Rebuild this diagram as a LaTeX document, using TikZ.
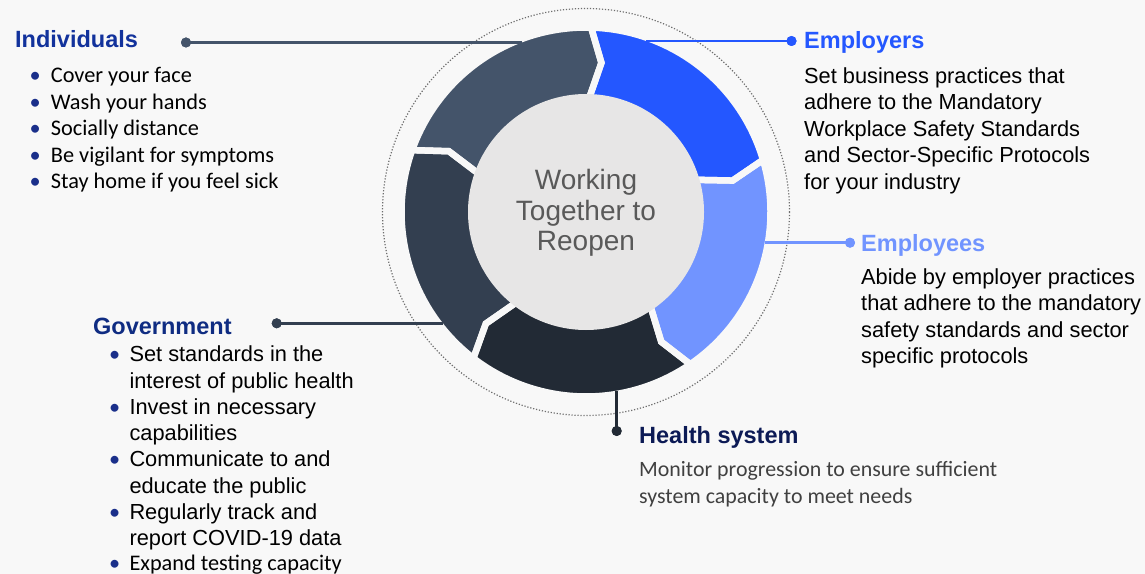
\documentclass[tikz,border=0pt]{standalone}
\usepackage{fontspec}
\setmainfont{Liberation Sans}
\newfontfamily\calib{Carlito}
\definecolor{bg}{HTML}{F8F8F8}
\definecolor{cInd}{HTML}{44546A}
\definecolor{cEmp}{HTML}{2457FF}
\definecolor{cEmpl}{HTML}{7194FF}
\definecolor{cHea}{HTML}{222A35}
\definecolor{cGov}{HTML}{333F50}
\definecolor{cMid}{HTML}{E7E6E6}
\definecolor{hInd}{HTML}{12329C}
\definecolor{hGov}{HTML}{0F2C82}
\definecolor{hHea}{HTML}{0C1A55}
\definecolor{bul}{HTML}{1A2F8A}
\definecolor{ctext}{HTML}{595959}
\definecolor{gtext}{HTML}{404040}
\definecolor{dotc}{HTML}{6E6E6E}
\newcommand\mysegpath[1]{%
  \pgfmathsetmacro\ts{-#1}%
  \pgfmathsetmacro\te{-#1+72}%
  \pgfmathsetmacro\tt{\te+4.3}%
  \pgfmathsetmacro\tn{\ts+4.3}%
}
\begin{document}
\begin{tikzpicture}[x=1bp,y=-1bp,
  head/.style={inner sep=0pt,anchor=base west,font=\fontsize{23.5bp}{28bp}\selectfont\bfseries},
  body/.style={inner sep=0pt,anchor=base west,font=\fontsize{21.8bp}{26.5bp}\selectfont,text=black},
  cbody/.style={inner sep=0pt,anchor=base west,font=\calib\fontsize{22.3bp}{26.5bp}\selectfont,text=black},
  hbody/.style={inner sep=0pt,anchor=base west,font=\calib\fontsize{21.9bp}{26.5bp}\selectfont,text=gtext},
  mid/.style={inner sep=0pt,anchor=base,font=\fontsize{28bp}{30bp}\selectfont,text=ctext},
  dot/.style={circle,inner sep=0pt,minimum size=10bp},
  conn/.style={line width=2.6bp}]
\fill[bg] (0,0) rectangle (1145,574);
\useasboundingbox (0,0) rectangle (1145,574);
\node[circle,inner sep=0pt,minimum size=236bp] (c) at (586,212) {};
% dotted outer circle
\draw[dotc,line width=1.2bp,dash pattern=on 1.2bp off 1.8bp] (c.center) circle[radius=203.5];
% ring segments
\begin{scope}[shift={(c.center)}]
\foreach \s/\col in {160.4/cInd,88.4/cEmp,16.4/cEmpl,-55.6/cHea,-127.6/cGov}{
  \mysegpath{\s}
  \fill[\col] (\ts:184.5) arc[start angle=\ts,end angle=\te,radius=184.5]
     -- (\tt:150) -- (\te:114) arc[start angle=\te,end angle=\ts,radius=114]
     -- (\tn:150) -- cycle;
}
\foreach \s in {160.4,88.4,16.4,-55.6,-127.6}{
  \mysegpath{\s}
  \draw[bg,line width=6.5bp,line join=miter] (\ts:184.5) arc[start angle=\ts,end angle=\te,radius=184.5]
     -- (\tt:150) -- (\te:114) arc[start angle=\te,end angle=\ts,radius=114]
     -- (\tn:150) -- cycle;
}
\end{scope}
\fill[cMid] (c.center) circle[radius=118];
% connectors
\node[dot,fill=cInd] (ind-dot) at (186,42.5) {};
\coordinate (ind-end) at (521.8,42.5);
\node[dot,fill=cEmp] (emp-dot) at (791.5,41) {};
\coordinate (emp-end) at (646.1,41);
\node[dot,fill=cEmpl] (empl-dot) at (850,242.7) {};
\coordinate (empl-end) at (764.6,242.7);
\node[dot,fill=cGov] (gov-dot) at (276.7,323.3) {};
\coordinate (gov-end) at (442.9,323.3);
\node[dot,fill=cHea] (hea-dot) at (616.7,431) {};
\coordinate (hea-end) at (616.7,390.6);
\draw[conn,cInd,line width=3bp] (ind-dot.center) -- (ind-end);
\draw[conn,cEmp] (emp-dot.center) -- (emp-end);
\draw[conn,cEmpl] (empl-dot.center) -- (empl-end);
\draw[conn,cGov] (gov-dot.center) -- (gov-end);
\draw[conn,cHea] (hea-dot.center) -- (hea-end);
\node[dot,fill=cInd] at (ind-dot) {};
\node[dot,fill=cEmp] at (emp-dot) {};
\node[dot,fill=cEmpl] at (empl-dot) {};
\node[dot,fill=cGov] at (gov-dot) {};
\node[dot,fill=cHea] at (hea-dot) {};
% centre text
\node[mid] (m1) at (586,190) {Working};
\node[mid] (m2) at (586,220.7) {Together to};
\node[mid] (m3) at (586,250.7) {Reopen};
% Individuals
\node[head,text=hInd] (ind-h) at (15,47.5) {Individuals};
\foreach \t [count=\i from 0] in {Cover your face,Wash your hands,Socially distance,Be vigilant for symptoms,Stay home if you feel sick}
  \node[cbody] (ind-\i) at (29.5,82.7+26.5*\i) {\makebox[21.2bp][l]{\textcolor{bul}{•}}\t};
% Employers
\node[head,text=cEmp] (emp-h) at (804,48.3) {Employers};
\foreach \t [count=\i from 0] in {Set business practices that,adhere to the Mandatory,Workplace Safety Standards,and Sector-Specific Protocols,for your industry}
  \node[body] (emp-\i) at (804,83.3+26.5*\i) {\t};
% Employees
\node[head,text=cEmpl] (empl-h) at (861,251.7) {Employees};
\foreach \t [count=\i from 0] in {Abide by employer practices,that adhere to the mandatory,safety standards and sector,specific protocols}
  \node[body] (empl-\i) at (861,284.3+26.5*\i) {\t};
% Government
\node[head,text=hGov] (gov-h) at (93,335) {Government};
\foreach \t [count=\i from 0] in {Set standards in the,interest of public health,Invest in necessary,capabilities,Communicate to and,educate the public,Regularly track and,report COVID-19 data}
  \node[body] (gov-\i) at (129.3,361.7+26.3*\i) {\t};
\foreach \i in {0,2,4,6}
  \node[cbody,text=bul] (gov-b\i) at (109,361.7+26.3*\i) {•};
\node[cbody,text=bul] (gov-b8) at (109,570) {•};
\node[cbody] (gov-8) at (129.3,570) {Expand testing capacity};
% Health system
\node[head,text=hHea] (hea-h) at (639,443.3) {Health system};
\node[hbody] (hea-0) at (639,476.7) {Monitor progression to ensure sufficient};
\node[hbody] (hea-1) at (639,503) {system capacity to meet needs};
\end{tikzpicture}
\end{document}
